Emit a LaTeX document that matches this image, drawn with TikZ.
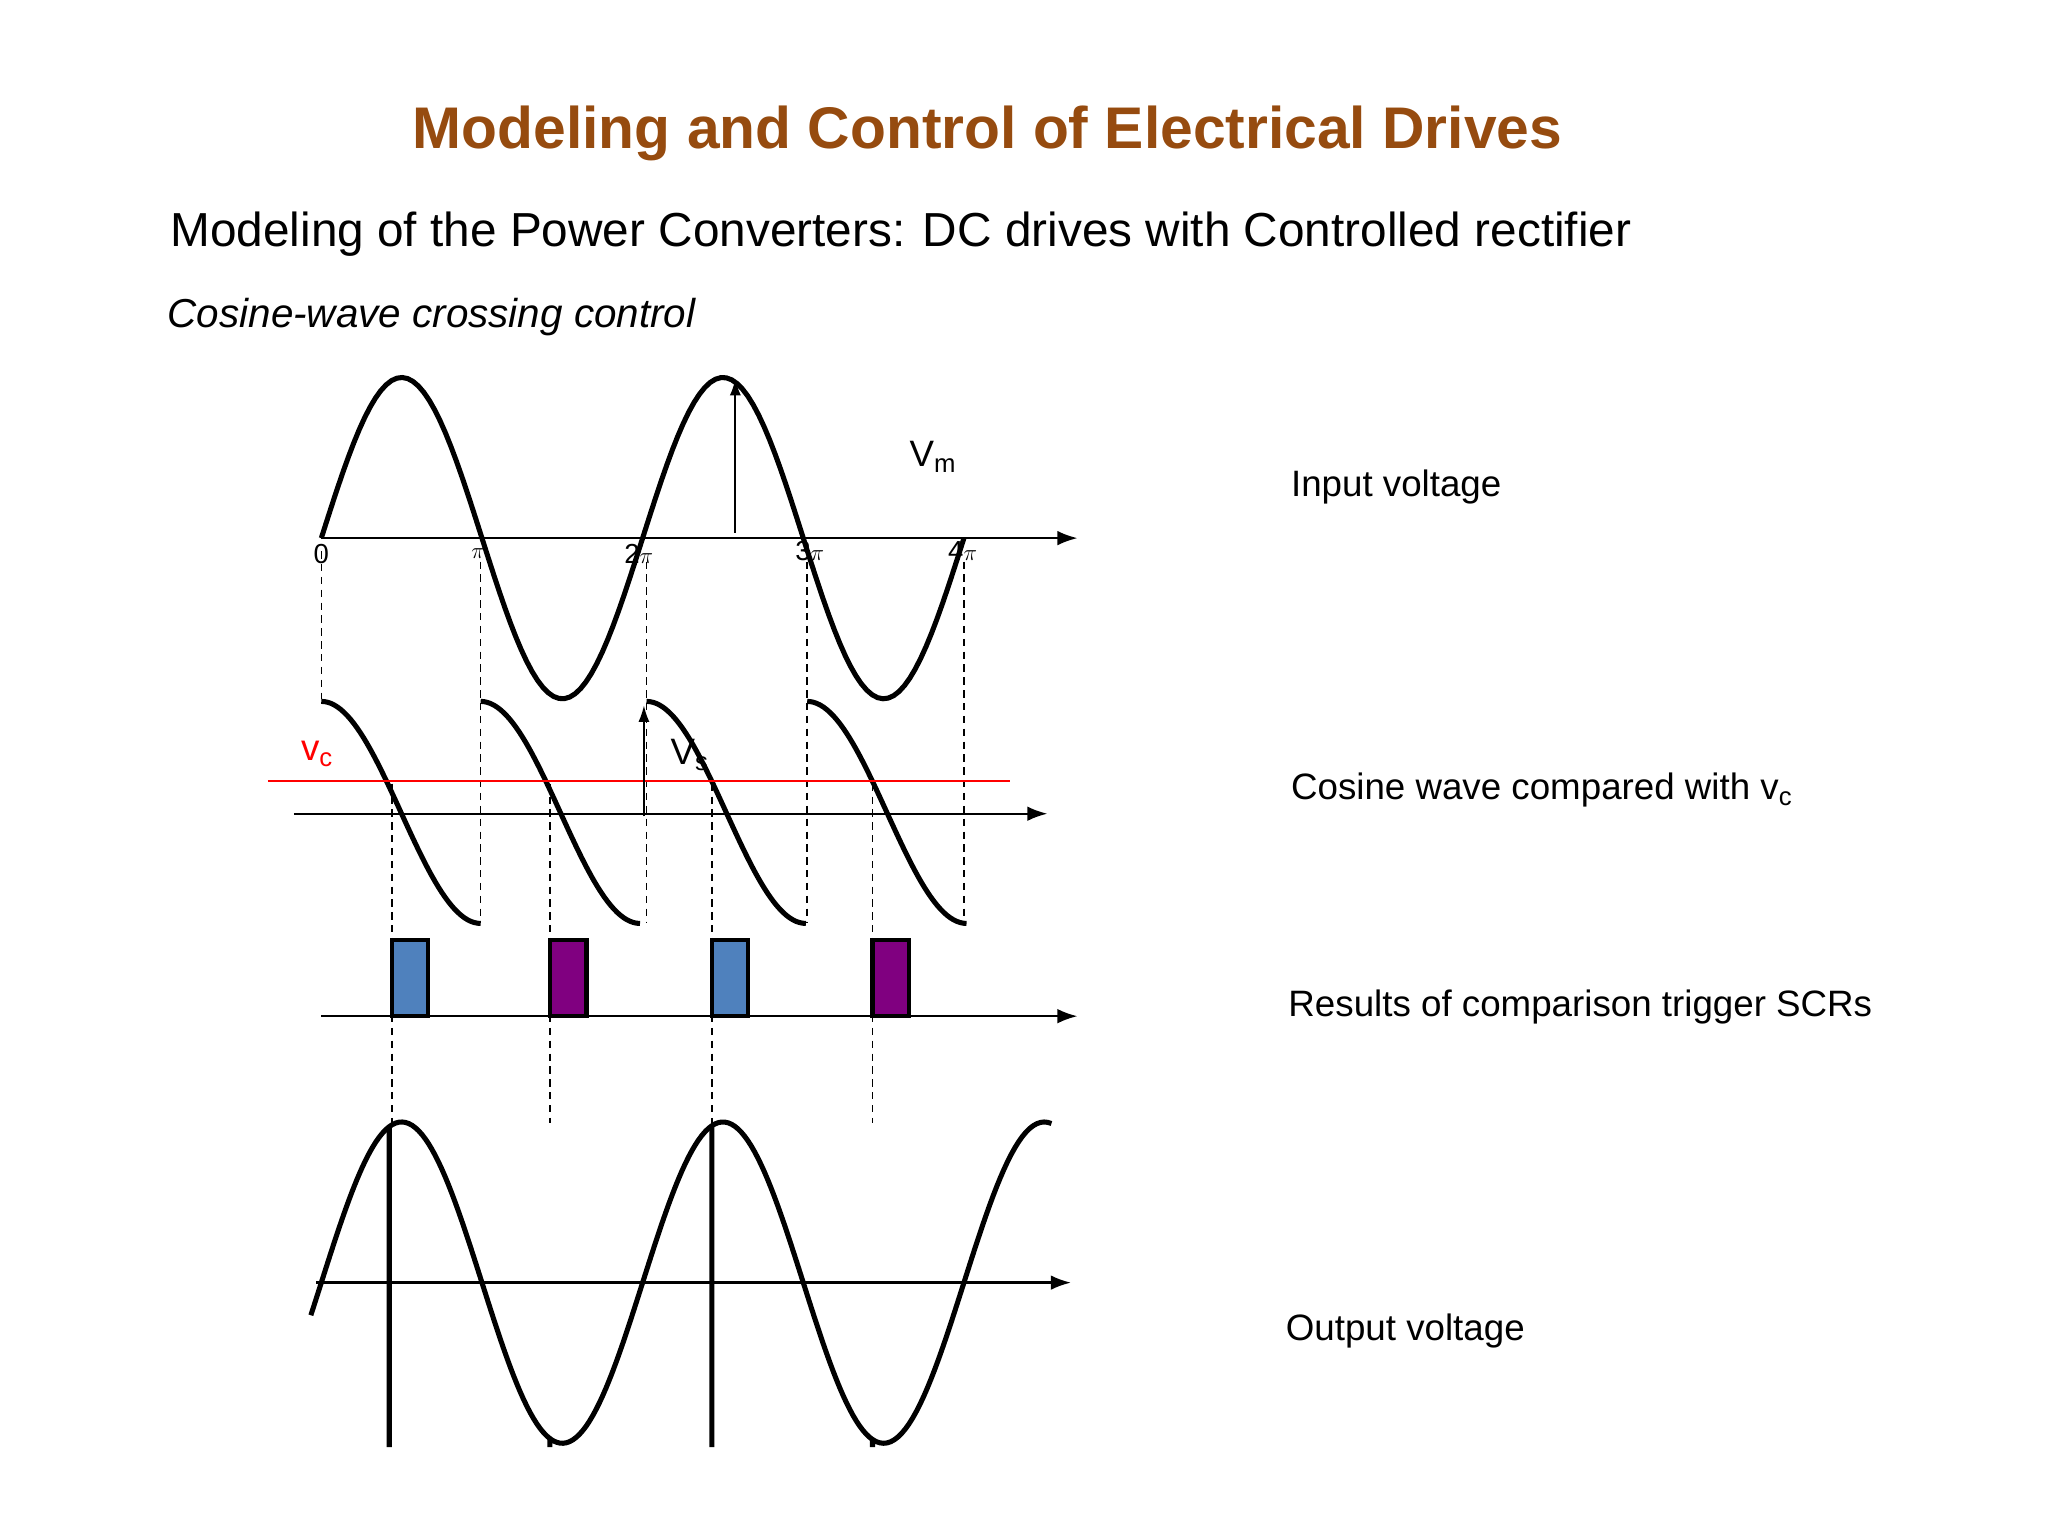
\documentclass[tikz,border=0pt]{standalone}
\usepackage{fontspec}
\setmainfont{Liberation Sans}
\usetikzlibrary{arrows.meta}
\definecolor{titlec}{RGB}{150,75,15}
\definecolor{pblue}{RGB}{79,129,189}
\definecolor{ppurp}{RGB}{128,0,128}
\begin{document}
\begin{tikzpicture}[x=0.05cm,y=-0.05cm,
  wave/.style={line width=5.5pt,line join=round},
  axis/.style={line width=2.6pt,-{Latex[length=22pt,width=16pt]}},
  dashln/.style={line width=1.6pt,dash pattern=on 8pt off 6pt},
  lbl/.style={font=\fontsize{40}{48}\selectfont,anchor=west},
  tick/.style={font=\fontsize{30}{36}\selectfont}]
\useasboundingbox (0,0) rectangle (1568,1176);
\node[font=\fontsize{64}{76}\bfseries\selectfont,text=titlec] (title) at (756,102) {Modeling and Control of Electrical Drives};
\node[anchor=west,font=\fontsize{52}{62}\selectfont] (sub) at (128,179) {Modeling of the Power Converters: DC drives with Controlled rectifier};
\node[anchor=west,font=\fontsize{44}{52}\itshape\selectfont] (cw) at (126,243) {Cosine-wave crossing control};
% input
\coordinate (a1s) at (246,412); \coordinate (a1e) at (825,412);
\draw[axis] (a1s) -- (a1e);
\draw[wave] plot[domain=246:738,samples=120] (\x,{412-123*sin(1.4634*(\x-246))});
\coordinate (vm1) at (563,408); \coordinate (vm2) at (563,290);
\draw[line width=2pt,-{Latex[length=18pt,width=12pt]}] (vm1) -- (vm2);
\node[lbl] (vm) at (694,350) {V\textsubscript{m}};
\node[tick] (t0) at (246,424) {0};
\node[tick] (t1) at (366,424) {$\pi$};
\node[tick] (t2) at (489,424) {2$\pi$};
\node[tick] (t3) at (620,422) {3$\pi$};
\node[tick] (t4) at (737,422) {4$\pi$};
% dashed
\draw[dashln] (246,422) -- (246,535);
\foreach \xx in {368,495,618,738} \draw[dashln] (\xx,430) -- (\xx,707);
\foreach \xx in {300,421,545,668} \draw[dashln] (\xx,600) -- (\xx,860);
% cosine
\coordinate (a2s) at (225,623); \coordinate (a2e) at (802,623);
\draw[axis] (a2s) -- (a2e);
\foreach \xx in {246,368,495,618}
  \draw[wave] plot[domain=\xx:\xx+122,samples=50] (\x,{622-85*cos(1.4754*(\x-\xx))});
\coordinate (vc1) at (205,598); \coordinate (vc2) at (773,598);
\draw[red,line width=1.6pt] (vc1) -- (vc2);
\node[lbl,text=red] (vc) at (228,577) {v\textsubscript{c}};
\coordinate (vs1) at (493,625); \coordinate (vs2) at (493,540);
\draw[line width=2pt,-{Latex[length=18pt,width=12pt]}] (vs1) -- (vs2);
\node[lbl] (vs) at (511,578) {V\textsubscript{s}};
% pulses
\coordinate (a3s) at (246,778); \coordinate (a3e) at (825,778);
\draw[axis] (a3s) -- (a3e);
\foreach \xx/\cc in {300/pblue,421/ppurp,545/pblue,668/ppurp}
  \draw[line width=4.5pt,fill=\cc] (\xx,778) rectangle (\xx+28,720);
% output
\coordinate (a4s) at (242,982); \coordinate (a4e) at (820,982);
\draw[axis] (a4s) -- (a4e);
\draw[wave] plot[domain=238:298,samples=30] (\x,{982-123*sin(1.4634*(\x-246))});
\foreach \xx/\ee in {298/421,421/545,545/668,668/805}
  \draw[wave] (\xx,1108) -- plot[domain=\xx:\ee,samples=50] (\x,{982-123*sin(1.4634*(\x-246))});
% right labels
\node[lbl] (l1) at (986,373) {Input voltage};
\node[lbl] (l2) at (986,605) {Cosine wave compared with v\textsubscript{c}};
\node[lbl] (l3) at (984,771) {Results of comparison trigger SCRs};
\node[lbl] (l4) at (982,1019) {Output voltage};
\end{tikzpicture}
\end{document}
